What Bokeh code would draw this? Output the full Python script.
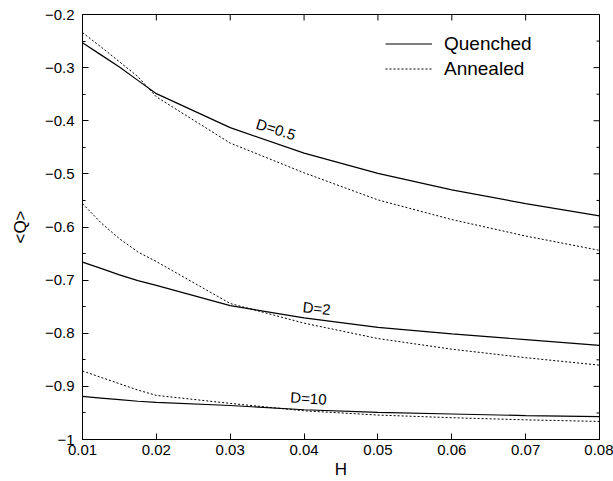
import math
from bokeh.plotting import figure
from bokeh.models import FixedTicker, Legend, LegendItem, Range1d
from bokeh.core.properties import value
from bokeh.embed import file_html
from bokeh.resources import INLINE

# ---- data ----
H = [0.01, 0.0125, 0.015, 0.0175, 0.02, 0.03, 0.04, 0.05, 0.06, 0.07, 0.08]

quenched_D05 = [-0.253, -0.276, -0.299, -0.324, -0.349, -0.413, -0.461, -0.499, -0.530, -0.556, -0.579]
annealed_D05 = [-0.234, -0.261, -0.289, -0.317, -0.355, -0.442, -0.498, -0.549, -0.586, -0.617, -0.644]

quenched_D2 = [-0.666, -0.678, -0.690, -0.701, -0.710, -0.748, -0.771, -0.789, -0.801, -0.812, -0.823]
annealed_D2 = [-0.556, -0.592, -0.622, -0.647, -0.665, -0.744, -0.781, -0.810, -0.830, -0.846, -0.860]

quenched_D10 = [-0.919, -0.922, -0.925, -0.928, -0.930, -0.936, -0.944, -0.949, -0.952, -0.955, -0.957]
annealed_D10 = [-0.871, -0.883, -0.895, -0.907, -0.917, -0.932, -0.946, -0.954, -0.959, -0.963, -0.966]

curve_labels = ["D=0.5", "D=2", "D=10"]
curve_label_H = [0.0362, 0.0417, 0.0406]
curve_label_Q = [-0.4158, -0.7527, -0.9223]
curve_label_angle = [-0.30, -0.10, -0.06]

x_ticks = [0.01, 0.02, 0.03, 0.04, 0.05, 0.06, 0.07, 0.08]
x_tick_labels = ["0.01", "0.02", "0.03", "0.04", "0.05", "0.06", "0.07", "0.08"]
y_ticks = [-1, -0.9, -0.8, -0.7, -0.6, -0.5, -0.4, -0.3, -0.2]
y_tick_labels = ["\u22121", "\u22120.9", "\u22120.8", "\u22120.7", "\u22120.6",
                 "\u22120.5", "\u22120.4", "\u22120.3", "\u22120.2"]
y_minor = [-0.95, -0.85, -0.75, -0.65, -0.55, -0.45, -0.35, -0.25]

X_MIN, X_MAX = 0.01, 0.08
Y_MIN, Y_MAX = -1.0, -0.2

FONT = "Liberation Sans"

p = figure(width=613, height=481,
           x_range=Range1d(X_MIN, X_MAX), y_range=Range1d(Y_MIN, Y_MAX),
           output_backend="svg", toolbar_location=None,
           min_border_left=82, min_border_right=14,
           min_border_top=14, min_border_bottom=40)

p.grid.visible = False
p.outline_line_color = "black"
p.outline_line_width = 1
p.background_fill_color = "white"
p.border_fill_color = "white"

# bottom axis
xa = p.xaxis[0]
xa.ticker = FixedTicker(ticks=x_ticks)
xa.major_label_overrides = dict(zip(x_ticks, x_tick_labels))
xa.axis_label = "H"
# left axis
ya = p.yaxis[0]
ya.ticker = FixedTicker(ticks=y_ticks, minor_ticks=y_minor)
ya.major_label_overrides = dict(zip(y_ticks, y_tick_labels))
ya.axis_label = "<Q>"

for ax in (xa, ya):
    ax.axis_line_color = "black"
    ax.axis_line_width = 1
    ax.major_tick_in = 6
    ax.major_tick_out = 0
    ax.minor_tick_in = 3
    ax.minor_tick_out = 0
    ax.major_tick_line_color = "black"
    ax.minor_tick_line_color = "black"
    ax.major_label_text_font = FONT
    ax.major_label_text_font_size = "15px"
    ax.major_label_text_color = "black"
    ax.axis_label_text_font = FONT
    ax.axis_label_text_font_size = "17px"
    ax.axis_label_text_font_style = "normal"
    ax.axis_label_text_color = "black"

xa.minor_tick_line_color = None
xa.major_label_standoff = 5
xa.axis_label_standoff = 2
ya.major_label_standoff = 8
ya.axis_label_standoff = 12

# mirrored tick marks on top and right edges (inward)
p.ray(x=x_ticks, y=[Y_MAX] * len(x_ticks), length=6, length_units="screen",
      angle=-math.pi / 2, line_color="black", line_width=1)
p.ray(x=[X_MAX] * len(y_ticks), y=y_ticks, length=6, length_units="screen",
      angle=math.pi, line_color="black", line_width=1)
p.ray(x=[X_MAX] * len(y_minor), y=y_minor, length=3, length_units="screen",
      angle=math.pi, line_color="black", line_width=1)

solid = dict(line_color="black", line_width=1.2)
dotted = dict(line_color="black", line_width=1, line_dash="2 2")

rq = p.line(H, quenched_D05, **solid)
ra = p.line(H, annealed_D05, **dotted)
p.line(H, quenched_D2, **solid)
p.line(H, annealed_D2, **dotted)
p.line(H, quenched_D10, **solid)
p.line(H, annealed_D10, **dotted)

p.text(x=curve_label_H, y=curve_label_Q, text=curve_labels, angle=curve_label_angle,
       text_font=value(FONT), text_font_size=value("15px"), text_color="black",
       text_align="center", text_baseline="middle")

legend = Legend(items=[LegendItem(label="Quenched", renderers=[rq]),
                       LegendItem(label="Annealed", renderers=[ra])],
                location=(303, 358))
legend.border_line_color = None
legend.background_fill_alpha = 0
legend.padding = 0
legend.spacing = 0
legend.margin = 0
legend.glyph_width = 47
legend.glyph_height = 25
legend.label_height = 25
legend.label_standoff = 12
legend.label_text_font = FONT
legend.label_text_font_size = "19px"
legend.label_text_color = "black"
p.add_layout(legend)

open("out.html", "w").write(file_html(p, INLINE))
